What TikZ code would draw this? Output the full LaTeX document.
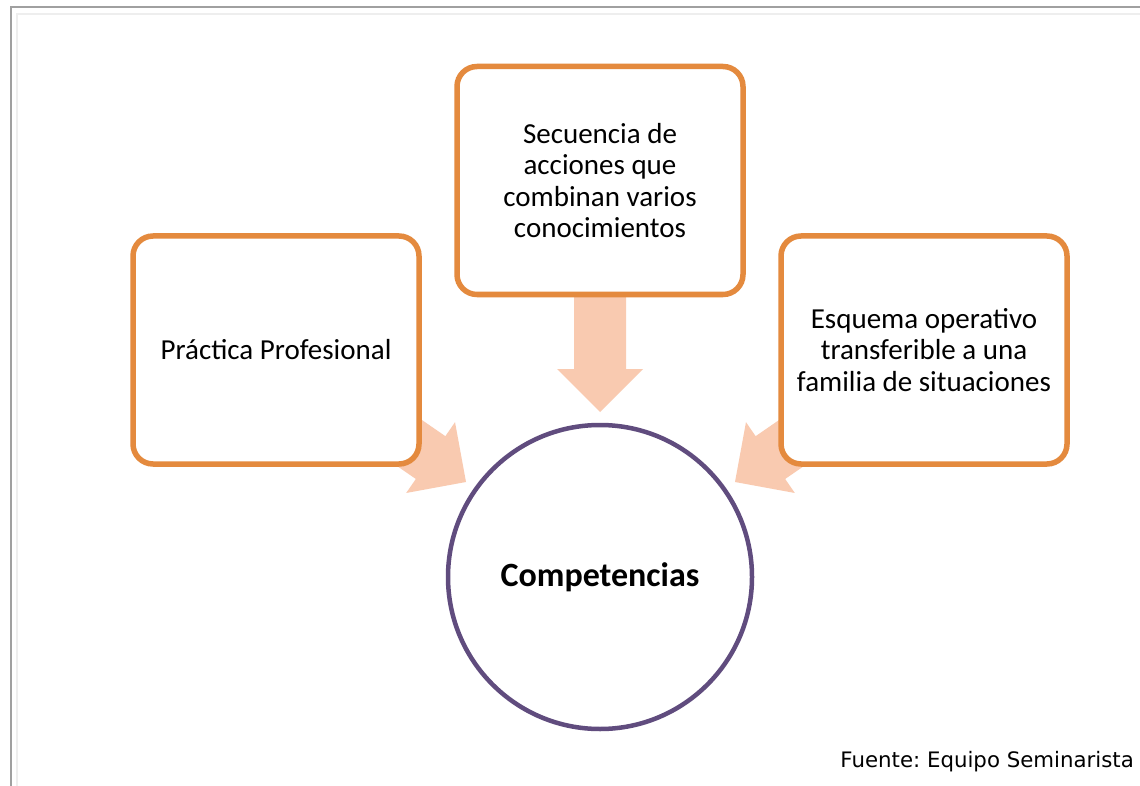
\documentclass[tikz,border=0pt]{standalone}
\usepackage{fontspec}
\setmainfont{Carlito}
\newfontfamily\fuentefont{DejaVu Sans}
\frenchspacing
\definecolor{boxorange}{HTML}{E48A3E}
\definecolor{arrowfill}{HTML}{F9CAB0}
\definecolor{circpurple}{HTML}{604C7E}
\definecolor{frameDark}{HTML}{A0A0A0}
\definecolor{frameLight}{HTML}{EEEEEE}
\tikzset{
  blockarrow/.pic={
    \fill[arrowfill] (0,0) -- (-43,-43) -- (-43,-26) -- (-125,-26)
      -- (-125,26) -- (-43,26) -- (-43,43) -- cycle;
  },
  box/.style={draw=boxorange, line width=5.5pt, rounded corners=20pt, fill=white,
    minimum width=286pt, minimum height=228pt, inner sep=0pt, align=center,
    font=\fontsize{29}{31.5}\selectfont},
  hub/.style={circle, draw=circpurple, line width=4.5pt, fill=white,
    minimum size=304pt, inner sep=0pt, font=\bfseries\fontsize{34}{40}\selectfont},
  source/.style={anchor=base east, inner sep=0pt, font=\fuentefont\fontsize{21.3}{25}\selectfont}
}
\begin{document}
\begin{tikzpicture}[x={(1pt,0)}, y={(0,-1pt)}]
\useasboundingbox (0,0) rectangle (1140,786);
\fill[white] (0,0) rectangle (1140,786);
% frame lines
\draw[frameDark, line width=2pt] (11,786) -- (11,7) -- (1140,7);
\draw[frameLight, line width=2pt] (17,786) -- (17,14) -- (1140,14);
% block arrows
\pic[rotate=-90] at (600,412) {blockarrow};
\pic[rotate=-34.6] at (466,482) {blockarrow};
\pic[rotate=-145.4] at (735,482) {blockarrow};
% boxes
\node[box] (top) at (600,180.5) {Secuencia de\\acciones que\\combinan varios\\conocimientos};
\node[box] (left) at (276,350) {Práctica Profesional};
\node[box] (right) at (924,350) {Esquema operativo\\transferible a una\\familia de situaciones};
% hub
\node[hub] (comp) at (600,577) {Competencias};
% source
\node[source] (src) at (1134,767) {Fuente: Equipo Seminarista};
\end{tikzpicture}
\end{document}
